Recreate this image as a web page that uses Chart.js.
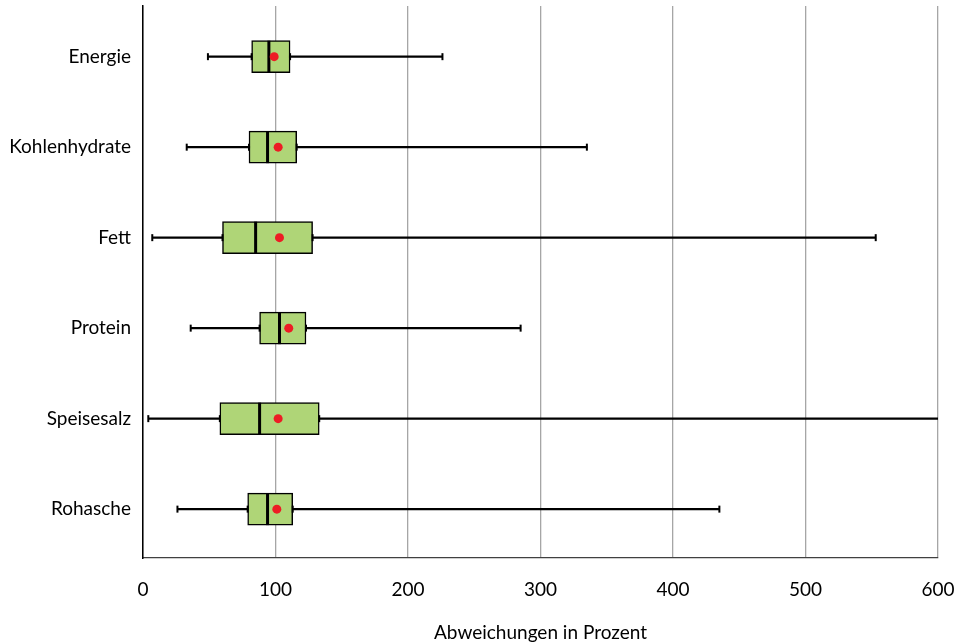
<!DOCTYPE html>
<html><head><meta charset="utf-8">
<script src="https://cdn.jsdelivr.net/npm/chart.js@4.4.1/dist/chart.umd.min.js"></script>
<style>html,body{margin:0;padding:0;background:#fff}#wrap{width:964px;height:644px}</style>
</head><body><div id="wrap"><canvas id="c" width="964" height="644"></canvas></div>
<script>
const categories = ["Energie","Kohlenhydrate","Fett","Protein","Speisesalz","Rohasche"];
const minVals    = [49, 33, 7, 36, 4, 26];
const q1Vals     = [82, 80, 60, 88, 58, 79];
const medianVals = [95, 94, 85, 103, 88, 94];
const q3Vals     = [111, 116, 128, 123, 133, 113];
const maxVals    = [226, 335, 553, 285, 650, 435];
const meanVals   = [99, 102, 103, 110, 102, 101];
const xTicks     = [0, 100, 200, 300, 400, 500, 600];

const FONT = "Lato";
const idx = categories.map((c, i) => i);

const boxExtras = {
  id: 'boxExtras',
  afterDatasetDraw(chart, args) {
    if (args.index !== 1) return;
    const ctx = chart.ctx, xs = chart.scales.x, area = chart.chartArea;
    const meta = chart.getDatasetMeta(1);
    ctx.save();
    ctx.beginPath();
    ctx.rect(area.left, area.top, area.right - area.left, area.bottom - area.top);
    ctx.clip();
    meta.data.forEach((bar, i) => {
      const y = bar.y, h = bar.height;
      const mx = xs.getPixelForValue(medianVals[i]);
      ctx.strokeStyle = '#000'; ctx.lineWidth = 3;
      ctx.beginPath(); ctx.moveTo(mx, y - h / 2); ctx.lineTo(mx, y + h / 2); ctx.stroke();
      ctx.lineWidth = 2;
      [minVals[i], q1Vals[i], q3Vals[i], maxVals[i]].forEach(v => {
        const px = xs.getPixelForValue(v);
        ctx.beginPath(); ctx.moveTo(px, y - 3.5); ctx.lineTo(px, y + 3.5); ctx.stroke();
      });
    });
    ctx.restore();
  }
};

new Chart(document.getElementById('c'), {
  data: {
    datasets: [
      { type: 'bar', label: 'Whisker', data: idx.map(i => ({ y: i, x: [minVals[i], maxVals[i]] })),
        backgroundColor: '#000', barThickness: 1.5, grouped: false, order: 3 },
      { type: 'bar', label: 'Box', data: idx.map(i => ({ y: i, x: [q1Vals[i], q3Vals[i]] })),
        backgroundColor: '#afd577', borderColor: '#000', borderWidth: 1.5,
        borderSkipped: false, barThickness: 32, grouped: false, order: 2 },
      { type: 'line', label: 'Mittelwert', data: idx.map(i => ({ y: i, x: meanVals[i] })),
        showLine: false, pointRadius: 4.5, pointBackgroundColor: '#ed1c24',
        pointBorderWidth: 0, borderColor: '#ed1c24', order: 0 }
    ]
  },
  options: {
    indexAxis: 'y',
    responsive: false,
    animation: false,
    layout: { padding: { top: 6, right: 26, left: 0, bottom: 0 } },
    plugins: { legend: { display: false }, tooltip: { enabled: false } },
    scales: {
      x: {
        type: 'linear', min: 0, max: 600,
        afterBuildTicks: s => { s.ticks = xTicks.map(v => ({ value: v })); },
        afterFit: s => { s.height = 86; s.paddingLeft = 0; s.paddingRight = 0; },
        grid: { color: '#a6a6a6', lineWidth: 1.3, drawTicks: false },
        border: { display: true, color: '#404040', width: 1.3 },
        ticks: { color: '#000', font: { family: FONT, size: 19 }, padding: 20 },
        title: { display: true, text: 'Abweichungen in Prozent', color: '#000',
                 font: { family: FONT, size: 19 }, padding: { top: 14, bottom: 0 } }
      },
      y: {
        type: 'linear', reverse: true, min: -0.56, max: 5.54, offset: false,
        afterBuildTicks: s => { s.ticks = idx.map(v => ({ value: v })); },
        afterFit: s => { s.width = 143; s.paddingTop = 0; s.paddingBottom = 0; },
        grid: { display: false, drawTicks: false },
        border: { display: true, color: '#000', width: 1.5 },
        ticks: { color: '#000', font: { family: FONT, size: 19 }, padding: 12,
                 callback: v => categories[v] }
      }
    }
  },
  plugins: [boxExtras]
});
</script>
</body></html>
